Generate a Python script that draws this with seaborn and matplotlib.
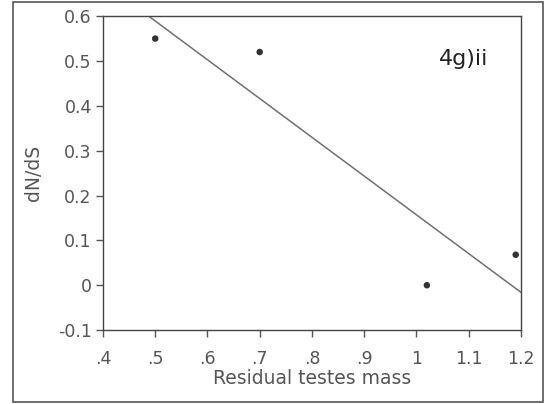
import matplotlib
matplotlib.use("Agg")
import matplotlib.pyplot as plt
import seaborn as sns
import pandas as pd
from matplotlib.patches import Rectangle

residual_testes_mass = [0.50, 0.70, 1.02, 1.19]
dn_ds = [0.55, 0.52, 0.00, 0.068]
x_ticks = [0.4, 0.5, 0.6, 0.7, 0.8, 0.9, 1.0, 1.1, 1.2]
x_tick_labels = [".4", ".5", ".6", ".7", ".8", ".9", "1", "1.1", "1.2"]
y_ticks = [-0.1, 0.0, 0.1, 0.2, 0.3, 0.4, 0.5, 0.6]
y_tick_labels = ["-0.1", "0", "0.1", "0.2", "0.3", "0.4", "0.5", "0.6"]
panel_label = "4g)ii"

df = pd.DataFrame({"x": residual_testes_mass, "y": dn_ds})

sns.set_style("white")
plt.rcParams["font.family"] = ["DejaVu Sans"]

fig = plt.figure(figsize=(5.46, 4.04), dpi=100)
ax = fig.add_axes([0.1886, 0.183, 0.7655, 0.777])

sns.regplot(data=df, x="x", y="y", ax=ax, ci=None, truncate=False,
            scatter_kws=dict(s=22, color="black", edgecolor="none", zorder=3),
            line_kws=dict(color="#707070", linewidth=1.1))

ax.set_xlim(0.4, 1.2)
ax.set_ylim(-0.1, 0.6)
ax.set_xticks(x_ticks)
ax.set_xticklabels(x_tick_labels)
ax.set_yticks(y_ticks)
ax.set_yticklabels(y_tick_labels)
ax.tick_params(axis="both", which="both", direction="out", length=5, width=1,
               colors="#555555", labelsize=12.5, labelcolor="#555555",
               bottom=True, left=True, top=False, right=False, pad=3)
ax.tick_params(axis="x", pad=9)
for sp in ax.spines.values():
    sp.set_color("#444444")
    sp.set_linewidth(1.0)
ax.set_xlabel("Residual testes mass", fontsize=13.5, color="#555555", labelpad=1)
ax.set_ylabel("dN/dS", fontsize=13.5, color="#555555", labelpad=11)
ax.text(0.864, 0.863, panel_label, transform=ax.transAxes, fontsize=16,
        color="#222222", ha="center", va="center")

fig.patches.append(Rectangle((13 / 546, 2 / 404), (543 - 13) / 546, (402 - 2) / 404,
                             transform=fig.transFigure, fill=False,
                             edgecolor="#555555", linewidth=1.2))

fig.savefig("out.png", dpi=100)
